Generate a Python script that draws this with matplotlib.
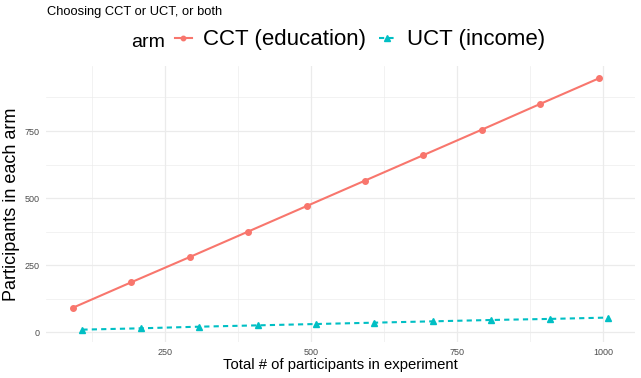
import matplotlib
matplotlib.use("Agg")
import matplotlib.pyplot as plt
from matplotlib.ticker import MultipleLocator

plt.rcParams["font.family"] = ["Liberation Sans", "DejaVu Sans"]

# data
total_n = [100, 200, 300, 400, 500, 600, 700, 800, 900, 1000]
cct_n = [91, 186, 280, 375, 470, 565, 660, 755, 851, 946]
uct_n = [9, 14, 20, 25, 30, 35, 40, 45, 49, 54]
arm_labels = ["CCT (education)", "UCT (income)"]
x_ticks = [250, 500, 750, 1000]
y_ticks = [0, 250, 500, 750]

cct_col = "#F8766D"
uct_col = "#00BFC4"
grid_col = "#EBEBEB"
dodge = 8

W, H = 641, 378
fig = plt.figure(figsize=(W / 100, H / 100), dpi=100)
ax = fig.add_axes([46.3 / W, (H - 342.2) / H, 588.4 / W, 276.3 / H])

x_cct = [x - dodge for x in total_n]
x_uct = [x + dodge for x in total_n]

l1, = ax.plot(x_cct, cct_n, color=cct_col, lw=1.5, marker="o", ms=4,
              label=arm_labels[0], zorder=3)
l2, = ax.plot(x_uct, uct_n, color=uct_col, lw=1.5, ls=(0, (2.5, 2)),
              marker="^", ms=5, label=arm_labels[1], zorder=3)

ax.margins(x=0.05, y=0.05)
ax.set_xticks(x_ticks)
ax.set_yticks(y_ticks)
ax.xaxis.set_minor_locator(MultipleLocator(125))
ax.yaxis.set_minor_locator(MultipleLocator(125))
ax.grid(True, which="major", color=grid_col, lw=0.9)
ax.grid(True, which="minor", color=grid_col, lw=0.45)
ax.set_axisbelow(True)
for s in ax.spines.values():
    s.set_visible(False)
ax.tick_params(which="both", length=0, labelsize=6.5, labelcolor="#4D4D4D")
ax.tick_params(axis="y", pad=5)
ax.tick_params(axis="x", pad=4)

ax.set_xlabel("Total # of participants in experiment", fontsize=10.7,
              va="center")
ax.xaxis.set_label_coords(0.5, -0.0825)
ax.set_ylabel("Participants in each arm", fontsize=13, va="center")
ax.yaxis.set_label_coords(-0.0583, 0.5)

fig.text(47 / W, 1 - 12 / H, "Choosing CCT or UCT, or both", fontsize=9.3,
         ha="left", va="center")

fig.text(131.5 / W, 1 - 47 / H, "arm", fontsize=14, ha="left", va="baseline")
fig.legend(handles=[l1, l2], loc="center left",
           bbox_to_anchor=(175 / W, 1 - 40 / H), ncol=2, frameon=False,
           fontsize=16, borderpad=0, borderaxespad=0, handlelength=0.75,
           handletextpad=0.5, columnspacing=0.6, markerscale=0.8)

fig.savefig("out.png", dpi=100)
